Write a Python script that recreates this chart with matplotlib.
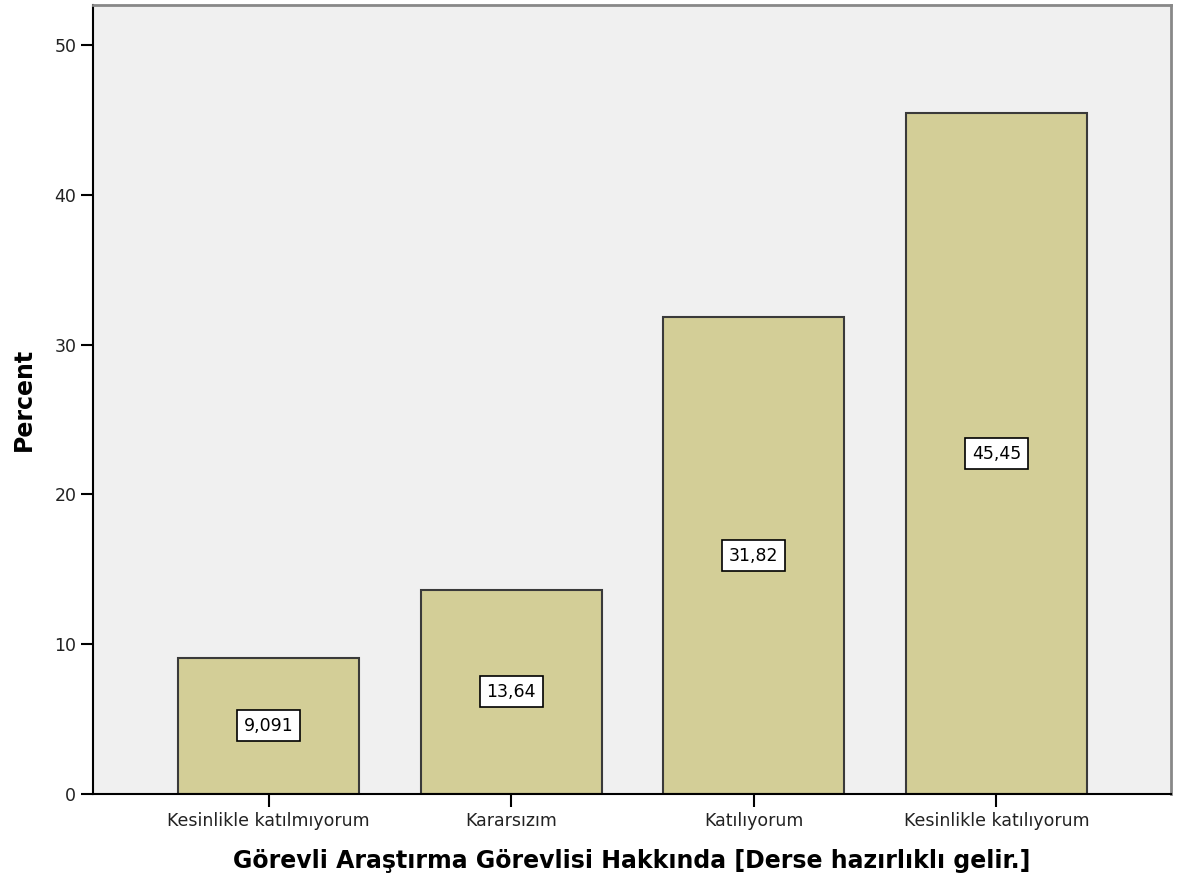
import matplotlib.pyplot as plt
import numpy as np

categories = ["Kesinlikle katılmıyorum", "Kararsızım", "Katılıyorum", "Kesinlikle katılıyorum"]
percents = [9.091, 13.64, 31.82, 45.45]
value_labels = ["9,091", "13,64", "31,82", "45,45"]

plt.rcParams["font.family"] = ["DejaVu Sans"]

fig = plt.figure(figsize=(11.79, 8.91), dpi=100)
ax = fig.add_axes([0.0789, 0.1089, 0.9143, 0.8855])
ax.set_facecolor("#f0f0f0")

x = np.arange(len(categories))
bars = ax.bar(x, percents, 0.747, color="#d3ce97", edgecolor="#3a3a3a", linewidth=1.5, zorder=2)

for xi, val, lab in zip(x, percents, value_labels):
    ax.text(xi, val / 2, lab, ha="center", va="center", fontsize=12.5,
            bbox=dict(boxstyle="square,pad=0.38", facecolor="white", edgecolor="black", linewidth=1.2),
            zorder=3)

ax.set_xlim(-0.724, 3.72)
ax.set_ylim(0, 52.67)
ax.set_yticks([0, 10, 20, 30, 40, 50])
ax.set_xticks(x)
ax.set_xticklabels(categories)

ax.tick_params(axis="both", direction="out", length=9, width=1.5, colors="black", labelsize=12.5, labelcolor="#222222")
ax.tick_params(axis="y", pad=3)
ax.tick_params(axis="x", pad=4)

for side in ["left", "bottom"]:
    ax.spines[side].set_color("black")
    ax.spines[side].set_linewidth(1.5)
for side in ["top", "right"]:
    ax.spines[side].set_color("#888888")
    ax.spines[side].set_linewidth(2)

ax.set_ylabel("Percent", fontsize=17, fontweight="bold", labelpad=13)
ax.set_xlabel("Görevli Araştırma Görevlisi Hakkında [Derse hazırlıklı gelir.]", fontsize=17, fontweight="bold", labelpad=14)

fig.savefig("out.png", dpi=100, facecolor="white")
